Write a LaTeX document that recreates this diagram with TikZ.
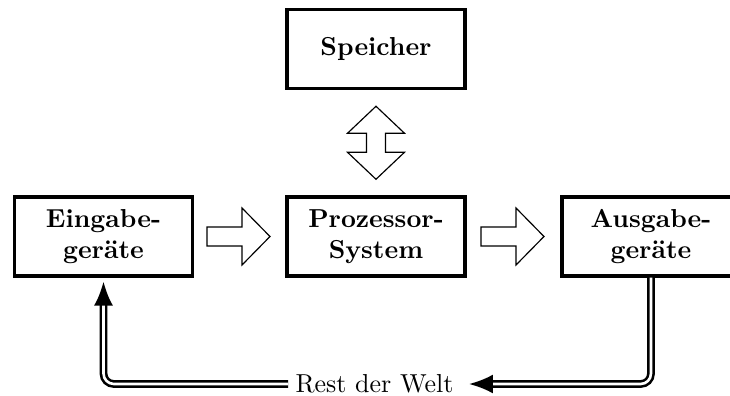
\documentclass[tikz,border=0pt]{standalone}
\usepackage{fontspec}
\usetikzlibrary{arrows.meta,calc}
\def\px{0.385pt}
\tikzset{
  unitbox/.style={draw, line width=1.2pt, minimum width=178*\px, minimum height=79*\px,
    inner sep=0pt, align=center, font=\bfseries},
  hollow/.style={draw, line width=0.45pt, line join=miter, fill=white},
  % block arrow pointing right, drawn from the tail at the origin
  rightblock/.pic={
    \path[hollow] (0,-9.5) -- (35,-9.5) -- (35,-28.5) -- (63,0) -- (35,28.5)
      -- (35,9.5) -- (0,9.5) -- cycle;
  },
  % block arrow pointing both ways vertically, centred at the origin
  updownblock/.pic={
    \path[hollow] (0,-36.5) -- (28.5,-9.5) -- (9.5,-9.5) -- (9.5,9.5) -- (28.5,9.5)
      -- (0,36.5) -- (-28.5,9.5) -- (-9.5,9.5) -- (-9.5,-9.5) -- (-28.5,-9.5) -- cycle;
  },
  feed/.style={line width=1pt, double, double distance=1pt, rounded corners=4pt},
  feedtip/.style={-{Latex[length=24*\px, width=19*\px]}}
}
\begin{document}
\begin{tikzpicture}[x=\px, y=-\px]
  \useasboundingbox (0,0) rectangle (730,396);
  % units
  \node[unitbox] (mem) at (376,49)      {Speicher};
  \node[unitbox] (ein) at (103.5,236.5) {Eingabe-\\geräte};
  \node[unitbox] (cpu) at (376,236.5)   {Prozessor-\\System};
  \node[unitbox] (aus) at (651,236.5)   {Ausgabe-\\geräte};
  % data flow between the units
  \pic (bus) at ($(mem.south)!0.5!(cpu.north)$) {updownblock};
  \pic (in)  at (207,236.5) {rightblock};
  \pic (out) at (481,236.5) {rightblock};
  % feedback through the environment
  \node[inner sep=0pt] (welt) at (374.5,384) {Rest der Welt};
  \draw[feed, feedtip] (aus.south) |- ($(welt.east)+(15,0)$);
  \draw[feed, feedtip] ($(welt.west)+(-7,0)$) -| ($(ein.south)+(0,4)$);
\end{tikzpicture}
\end{document}
